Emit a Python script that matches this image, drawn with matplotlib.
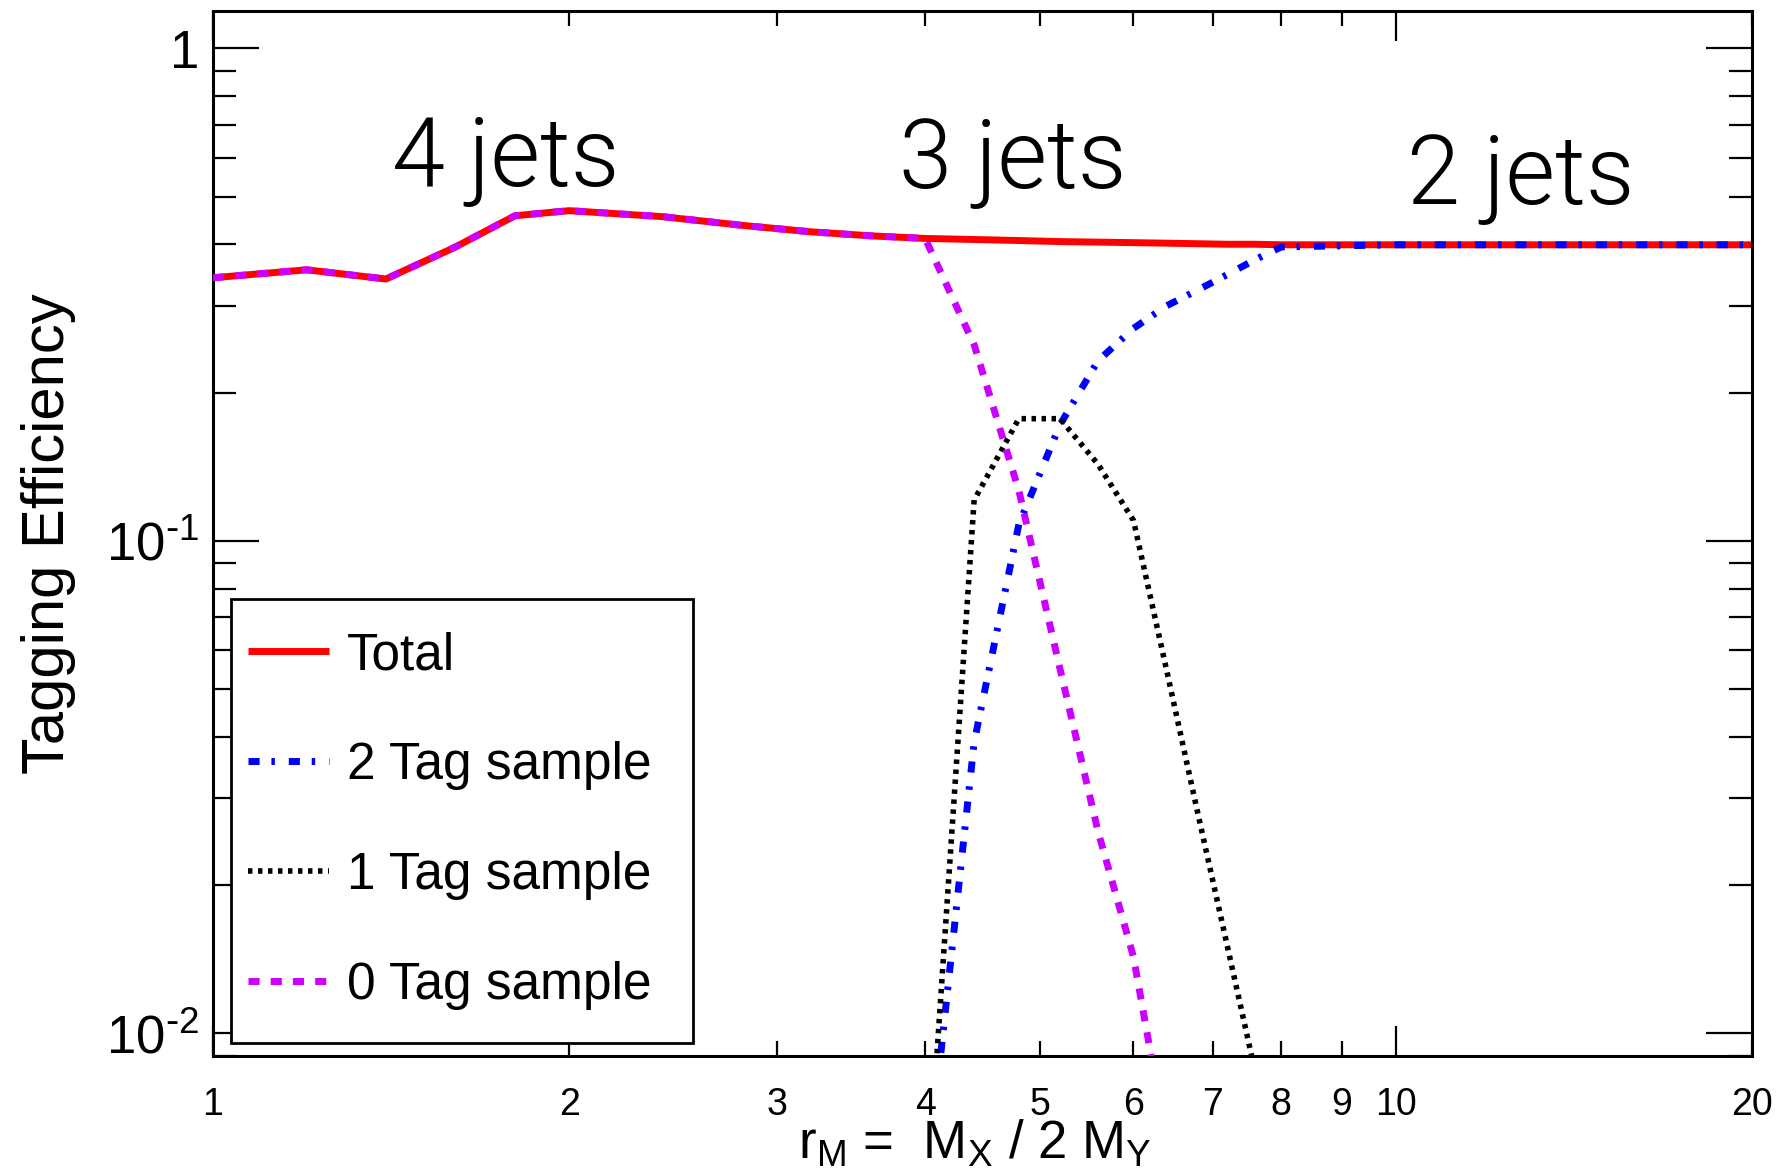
import numpy as np
import matplotlib
matplotlib.use('Agg')
import matplotlib.pyplot as plt
from matplotlib.patches import Rectangle
from matplotlib.ticker import FixedLocator, FuncFormatter, LogLocator, NullFormatter

# tagging efficiency vs mass ratio
r_total = [1.0, 1.2, 1.4, 1.6, 1.8, 2.0, 2.4, 2.8, 3.2, 3.6, 4.0, 4.4, 4.8, 5.2,
           5.6, 6.0, 6.4, 6.8, 7.2, 7.6, 8.0, 10, 12, 14, 16, 18, 20]
eff_total = [0.342, 0.355, 0.340, 0.394, 0.457, 0.468, 0.455, 0.437, 0.424, 0.416,
             0.411, 0.409, 0.407, 0.405, 0.404, 0.403, 0.402, 0.401, 0.400, 0.400,
             0.399, 0.399, 0.399, 0.399, 0.399, 0.399, 0.399]

r_2tag = [4.0, 4.4, 4.8, 5.2, 5.6, 6.0, 6.4, 6.8, 7.2, 7.6, 8.0, 10, 12, 14, 16, 18, 20]
eff_2tag = [0.0046, 0.039, 0.108, 0.172, 0.232, 0.270, 0.300, 0.323, 0.347, 0.372,
            0.395, 0.399, 0.399, 0.399, 0.399, 0.399, 0.399]

r_1tag = [4.0, 4.4, 4.8, 5.2, 5.6, 6.0, 6.4, 6.8, 7.2, 7.6, 8.0]
eff_1tag = [0.004, 0.121, 0.177, 0.177, 0.143, 0.110, 0.0546, 0.028, 0.0151, 0.0084, 0.0048]

r_0tag = [1.0, 1.2, 1.4, 1.6, 1.8, 2.0, 2.4, 2.8, 3.2, 3.6, 4.0, 4.4, 4.8, 5.2, 5.6, 6.0, 6.4]
eff_0tag = [0.342, 0.355, 0.340, 0.394, 0.457, 0.468, 0.455, 0.437, 0.424, 0.416,
            0.411, 0.25, 0.1265, 0.055, 0.0257, 0.0143, 0.006]

x_ticks_major = [1, 10]
x_ticks_minor = [2, 3, 4, 5, 6, 7, 8, 9, 20]
y_tick_labels = {1.0: '1', 0.1: r'$10^{\text{-}1}$', 0.01: r'$10^{\text{-}2}$'}

plt.rcParams['font.family'] = ['Liberation Sans', 'DejaVu Sans']
plt.rcParams['mathtext.default'] = 'regular'
plt.rcParams['axes.unicode_minus'] = False

W, H = 1784, 1172
fig = plt.figure(figsize=(W / 100, H / 100), dpi=100)
ax = fig.add_axes([213 / W, 1 - 1056 / H, 1539 / W, 1045 / H])

ax.plot(r_total, eff_total, color='#ff0000', lw=5, solid_capstyle='butt',
        label='Total', zorder=2)
ax.plot(r_2tag, eff_2tag, color='#0000ff', lw=5, dashes=(1.6, 1.7, 0.5, 2.0),
        label='2 Tag sample', zorder=3)
ax.plot(r_1tag, eff_1tag, color='black', lw=4, dashes=(0.8, 1.0),
        label='1 Tag sample', zorder=3)
ax.plot(r_0tag, eff_0tag, color='#cc00ff', lw=5, dashes=(1.6, 1.6),
        label='0 Tag sample', zorder=4)

ax.set_xscale('log')
ax.set_yscale('log')
ax.set_xlim(1, 20)
ax.set_ylim(0.009, 1.19)

ax.xaxis.set_major_locator(FixedLocator(x_ticks_major))
ax.xaxis.set_minor_locator(FixedLocator(x_ticks_minor))
ax.xaxis.set_major_formatter(FuncFormatter(lambda v, p: '%g' % v))
ax.xaxis.set_minor_formatter(FuncFormatter(lambda v, p: '%g' % v))

ax.yaxis.set_major_locator(LogLocator(base=10))
ax.yaxis.set_minor_locator(LogLocator(base=10, subs=np.arange(2, 10)))
ax.yaxis.set_major_formatter(FuncFormatter(lambda v, p: y_tick_labels.get(round(v, 4), '')))
ax.yaxis.set_minor_formatter(NullFormatter())

ax.tick_params(which='both', direction='in', top=True, right=True, width=1.6, color='black')
ax.tick_params(axis='x', which='major', length=21.6)
ax.tick_params(axis='x', which='minor', length=10.8)
ax.tick_params(axis='y', which='major', length=33)
ax.tick_params(axis='y', which='minor', length=16.5)
ax.tick_params(axis='x', which='both', labelsize=27, pad=22)
ax.tick_params(axis='y', which='both', labelsize=38, pad=10)
for s in ax.spines.values():
    s.set_linewidth(2.2)

ax.set_ylabel('Tagging Efficiency', fontsize=43, va='center')
ax.yaxis.set_label_coords(-0.107, 0.5)
ax.set_xlabel('r$_M$ =  M$_X$ / 2 M$_Y$', fontsize=38, va='baseline')
ax.xaxis.set_label_coords(0.495, -0.098)

# jet multiplicity regions
for txt, xp, yp in [('4 jets', 506, 186), ('3 jets', 1013, 188), ('2 jets', 1521, 204)]:
    fig.text(xp / W, 1 - yp / H, txt, fontsize=69, ha='center', va='baseline',
             family=['Roboto', 'DejaVu Sans'], fontweight=300)

# legend box drawn separately so its padding can follow the reference
ax.add_patch(Rectangle((18 / 1539, 13 / 1045), 462 / 1539, 444 / 1045,
                       transform=ax.transAxes, fill=True, facecolor='white',
                       edgecolor='black', lw=2, zorder=5))
leg = ax.legend(loc='upper left', bbox_to_anchor=(35 / 1539, 425 / 1045),
                borderaxespad=0, fontsize=37, frameon=False,
                handlelength=1.58, handletextpad=0.35,
                labelspacing=1.19, borderpad=0)
leg.set_zorder(6)

fig.savefig('out.png', dpi=100)
